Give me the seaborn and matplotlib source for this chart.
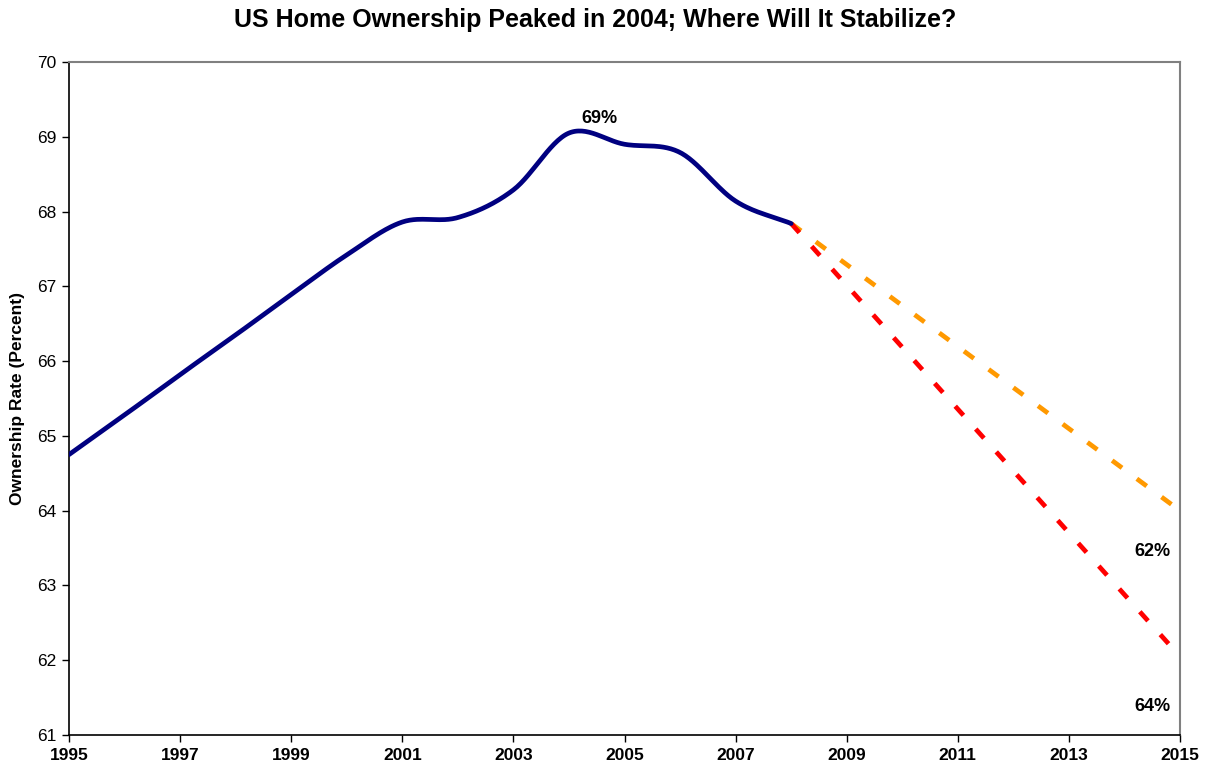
import numpy as np
import pandas as pd
import matplotlib
matplotlib.use("Agg")
import matplotlib.pyplot as plt
import seaborn as sns

# Annual home ownership rate (percent)
years = [1995, 1996, 1997, 1998, 1999, 2000, 2001, 2002, 2003, 2004, 2005, 2006, 2007, 2008]
rate = [64.75, 65.28, 65.82, 66.35, 66.89, 67.42, 67.86, 67.92, 68.29, 69.05, 68.9, 68.79, 68.14, 67.84]

# Projected paths from 2008 to 2015
proj_years = [2008, 2015]
proj_slow = [67.84, 64.0]
proj_fast = [67.84, 62.05]

# Annotations: (text, x, y)
labels = [("69%", 2004.55, 69.24), ("62%", 2014.5, 63.45), ("64%", 2014.5, 61.38)]

y_ticks = list(range(61, 71))
x_ticks = list(range(1995, 2016, 2))


def smooth(xs, ys, n=30):
    """Catmull-Rom style smoothing through each data point."""
    xs = np.asarray(xs, float)
    ys = np.asarray(ys, float)
    px = np.concatenate([[2 * xs[0] - xs[1]], xs, [2 * xs[-1] - xs[-2]]])
    py = np.concatenate([[2 * ys[0] - ys[1]], ys, [2 * ys[-1] - ys[-2]]])
    out_x, out_y = [], []
    t = np.linspace(0, 1, n, endpoint=False)
    for i in range(1, len(px) - 2):
        p0, p1, p2, p3 = py[i - 1], py[i], py[i + 1], py[i + 2]
        q0, q1, q2, q3 = px[i - 1], px[i], px[i + 1], px[i + 2]
        f = lambda a0, a1, a2, a3: 0.5 * ((2 * a1) + (-a0 + a2) * t
                                          + (2 * a0 - 5 * a1 + 4 * a2 - a3) * t ** 2
                                          + (-a0 + 3 * a1 - 3 * a2 + a3) * t ** 3)
        out_x.append(f(q0, q1, q2, q3))
        out_y.append(f(p0, p1, p2, p3))
    out_x.append([xs[-1]])
    out_y.append([ys[-1]])
    return np.concatenate(out_x), np.concatenate(out_y)


sns.set_theme(style="white")
plt.rcParams["font.family"] = ["Liberation Sans", "DejaVu Sans"]
plt.rcParams["text.color"] = "black"
plt.rcParams["axes.labelcolor"] = "black"
plt.rcParams["xtick.color"] = "black"
plt.rcParams["ytick.color"] = "black"

fig = plt.figure(figsize=(12.09, 7.72), dpi=100)
ax = fig.add_axes([69 / 1209, 1 - 735 / 772, (1180 - 69) / 1209, (735 - 62) / 772])

sx, sy = smooth(years, rate)
hist = pd.DataFrame({"year": sx, "rate": sy})
sns.lineplot(data=hist, x="year", y="rate", ax=ax, color="#000080", linewidth=3.4,
             sort=False, estimator=None, zorder=3)

slow = pd.DataFrame({"year": proj_years, "rate": proj_slow})
fast = pd.DataFrame({"year": proj_years, "rate": proj_fast})
sns.lineplot(data=slow, x="year", y="rate", ax=ax, color="#FF9900", linewidth=3.4,
             estimator=None, zorder=2)
sns.lineplot(data=fast, x="year", y="rate", ax=ax, color="#FF0000", linewidth=3.4,
             estimator=None, zorder=2)
for line in ax.lines[1:]:
    line.set_dashes([2.6, 3.9])
    line.set_dash_capstyle("butt")

for text, lx, ly in labels:
    ax.text(lx, ly, text, ha="center", va="center", fontsize=13, fontweight="bold",
            color="black")

ax.set_xlim(1995, 2015)
ax.set_ylim(61, 70)
ax.set_xticks(x_ticks)
ax.set_yticks(y_ticks)
ax.set_xticklabels([str(v) for v in x_ticks], fontweight="bold", fontsize=12.5)
ax.set_yticklabels([str(v) for v in y_ticks], fontsize=12.5)
ax.tick_params(axis="both", direction="out", length=5, width=1, color="black",
               labelcolor="black", bottom=True, left=True, pad=4)
ax.set_xlabel("")
ax.set_ylabel("Ownership Rate (Percent)", fontsize=12.5, fontweight="bold", labelpad=9,
              color="black")

for side in ["left", "bottom"]:
    ax.spines[side].set_color("black")
    ax.spines[side].set_linewidth(1.2)
for side in ["top", "right"]:
    ax.spines[side].set_color("#808080")
    ax.spines[side].set_linewidth(1.5)

fig.suptitle("US Home Ownership Peaked in 2004; Where Will It Stabilize?",
             x=595 / 1209, y=1 - 20 / 772, va="center", fontsize=18, fontweight="bold",
             color="black")

fig.savefig("out.png", dpi=100, facecolor="white")
